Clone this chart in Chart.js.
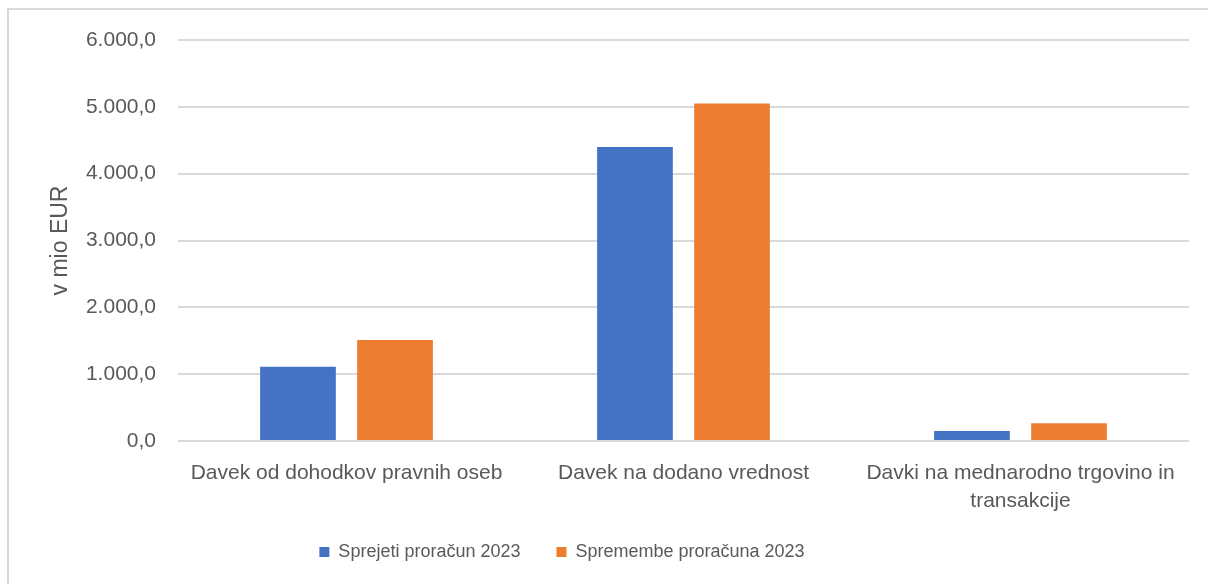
<!DOCTYPE html>
<html>
<head>
<meta charset="utf-8">
<script src="https://cdn.jsdelivr.net/npm/chart.js@4.4.0/dist/chart.umd.min.js"></script>
<style>
  html, body { margin: 0; padding: 0; background: #ffffff; overflow: hidden; }
  #frame {
    position: absolute; left: 7px; top: 8px;
    width: 1400px; height: 800px;
    border: 2px solid #d9d9d9;
  }
  #wrap { position: absolute; left: 0; top: 0; width: 1208px; height: 584px; }
</style>
</head>
<body>
<div id="frame"></div>
<div id="wrap"><canvas id="chart" width="1208" height="584"></canvas></div>
<script>
  // data (v mio EUR)
  const categories = [
    'Davek od dohodkov pravnih oseb',
    'Davek na dodano vrednost',
    ['Davki na mednarodno trgovino in', 'transakcije']
  ];
  const seriesNames = ['Sprejeti proračun 2023', 'Spremembe proračuna 2023'];
  const sprejeti = [1110, 4400, 150];
  const spremembe = [1510, 5050, 265];
  const yTicks = [0, 1000, 2000, 3000, 4000, 5000, 6000];

  const FONT = '"Liberation Sans", Arial, sans-serif';
  const GREY = '#595959';

  // 6000 -> "6.000,0"
  function fmt(v) {
    const s = Math.round(v).toString().replace(/\B(?=(\d{3})+(?!\d))/g, '.');
    return s + ',0';
  }

  // move the legend to where Excel put it (centre x 562, text y 552)
  const legendShift = {
    id: 'legendShift',
    afterLayout(chart) {
      const lg = chart.legend;
      const dx = 562 - (lg.left + lg.right) / 2;
      lg.left += dx;
      lg.right += dx;
      const pad = lg.options.labels.padding;
      const dy = 552 - (lg.top + pad + 9);
      lg.top += dy;
      lg.bottom += dy;
    }
  };

  new Chart(document.getElementById('chart'), {
    type: 'bar',
    data: {
      labels: categories,
      datasets: [
        {
          label: seriesNames[0],
          data: sprejeti,
          backgroundColor: '#4472c4',
          categoryPercentage: 0.576,
          barPercentage: 0.78
        },
        {
          label: seriesNames[1],
          data: spremembe,
          backgroundColor: '#ed7d31',
          categoryPercentage: 0.576,
          barPercentage: 0.78
        }
      ]
    },
    options: {
      responsive: false,
      animation: false,
      layout: { padding: { top: 40, right: 19, left: 0, bottom: 0 } },
      scales: {
        x: {
          grid: { display: false, drawTicks: false },
          border: { display: false },
          ticks: {
            color: GREY,
            font: { family: FONT, size: 21, lineHeight: 1.33 },
            padding: 18,
            maxRotation: 0,
            autoSkip: false
          },
          afterFit(scale) { scale.height = 79; }
        },
        y: {
          min: 0,
          max: 6000,
          afterBuildTicks(scale) { scale.ticks = yTicks.map(v => ({ value: v })); },
          grid: { color: '#d9d9d9', lineWidth: 2, drawTicks: false },
          border: { display: false },
          ticks: {
            color: GREY,
            font: { family: FONT, size: 21 },
            padding: 22,
            callback: v => fmt(v)
          },
          title: {
            display: true,
            text: 'v mio EUR',
            color: GREY,
            font: { family: FONT, size: 23 },
            padding: { top: 47, bottom: 0 }
          },
          afterFit(scale) { scale.width = 178; }
        }
      },
      plugins: {
        legend: {
          position: 'bottom',
          labels: {
            color: GREY,
            font: { family: FONT, size: 18 },
            boxWidth: 10,
            boxHeight: 10,
            padding: 36
          }
        },
        tooltip: { enabled: false }
      }
    },
    plugins: [legendShift]
  });
</script>
</body>
</html>
